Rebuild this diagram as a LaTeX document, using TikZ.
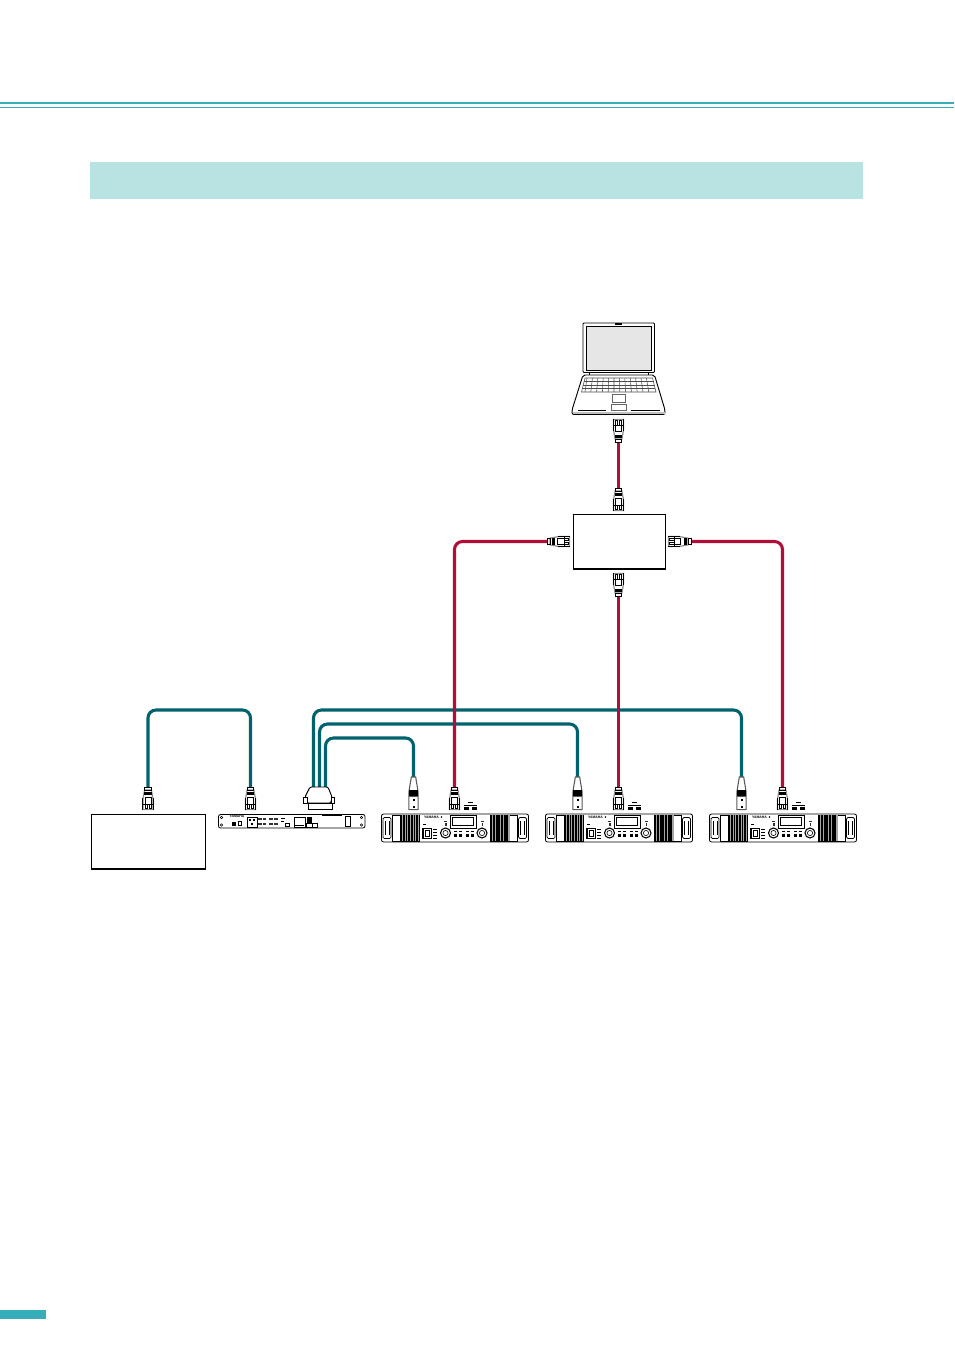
\documentclass[tikz,border=0pt]{standalone}
\usepackage{fontspec}
\setmainfont{Liberation Sans}
\definecolor{tealband}{HTML}{36ADB9}
\definecolor{paleband}{HTML}{B9E2E3}
\definecolor{tealcable}{HTML}{00626C}
\definecolor{redcable}{HTML}{B00F3A}
\definecolor{screen}{HTML}{E6E6E6}
\tikzset{
  x=0.75pt,y=-0.75pt,
  tealline/.style={draw=tealcable,line width=2.3pt,rounded corners=6pt},
  redline/.style={draw=redcable,line width=2.3pt,rounded corners=6pt},
  thin outline/.style={draw=black,line width=0.45pt},
  med outline/.style={draw=black,line width=0.7pt},
  boxnode/.style={draw=black,line width=0.7pt,fill=white,minimum width=#1,inner sep=0pt,outer sep=0pt,anchor=north west},
  logotext/.style={inner sep=0pt,font=\fontsize{2.6pt}{3pt}\selectfont\bfseries},
  pics/rjplug/.style={code={
    % origin = plug tip centre, cable leaves towards -y
    \fill[white] (-5.5,0) rectangle (5.5,-23);
    \draw[draw=black!45,line width=0.9pt] (-5,-0.4) -- (-5,-11) -- (-3.4,-20) -- (3.4,-20) -- (5,-11) -- (5,-0.4) -- cycle;
    \draw[draw=black,line width=0.6pt] (-3.2,-23) rectangle (3.2,-20);
    \fill[black] (-3.8,-18.5) rectangle (3.8,-15.5);
    \draw[draw=black,line width=0.5pt] (-5.3,0) -- (-5.3,-12) (5.3,0) -- (5.3,-12);
    \draw[draw=black,line width=0.55pt] (-5,-6) -- (-3,-6) (3,-6) -- (5,-6);
    \draw[draw=black,line width=0.55pt] (-3,-12.5) rectangle (3,-6);
    \draw[draw=black,line width=0.55pt] (-3,-6) -- (-3,-1.5) -- (-1,-1.5) -- (-1,-6);
    \draw[draw=black,line width=0.55pt] (3,-6) -- (3,-1.5) -- (1,-1.5) -- (1,-6);
  }},
  pics/xlrplug/.style={code={
    % origin = tip centre
    \fill[white] (-5,0) rectangle (5,-33);
    \draw[draw=black!65,line width=0.8pt] (-4.7,-0.4) -- (-4.7,-15) .. controls (-4.7,-21) and (-3,-26) .. (-2.2,-33) -- (2.2,-33) .. controls (3,-26) and (4.7,-21) .. (4.7,-15) -- (4.7,-0.4) -- cycle;
    \fill[black] (-4.7,-20) rectangle (4.7,-14.5);
    \fill[black!65] (-4.7,-14) rectangle (4.7,-13);
    \fill[black] (-1,-11) rectangle (1,-9);
    \fill[black] (-1,-4) rectangle (1,-2);
  }},
  pics/netsym/.style={code={
    \fill[black] (0,-3) rectangle (5,-0.5);
    \fill[black] (8.5,-3) rectangle (13.5,-0.5);
    \draw[thin outline] (0,-4.5) -- (13.5,-4.5);
    \fill[black] (4.5,-8.2) rectangle (9,-7);
  }},
  pics/ampunit/.style={code={
    \draw[draw=black,line width=0.6pt,rounded corners=1.5pt,fill=white] (0,0) rectangle (147,28);
    \foreach \hx in {1.5,137}{
      \draw[thin outline,rounded corners=1pt] (\hx,3.5) rectangle ++(8,21);
      \draw[thin outline] (\hx+2,7) -- (\hx+2,21) (\hx+6,7) -- (\hx+6,21);
    }
    \draw[thin outline] (11,1) rectangle (37.5,27);
    \draw[thin outline] (109,1) rectangle (135.5,27);
    \fill[black!35] (18,1) rectangle (37.5,27);
    \fill[black!35] (109,1) rectangle (128,27);
    \foreach \k in {18,19.6,...,36.5}{ \fill[black] (\k,1) rectangle ++(1.1,26); }
    \foreach \k in {109.5,111.1,...,127}{ \fill[black] (\k,1) rectangle ++(1.1,26); }
    \node[logotext] (logo) at (50,3.4) {YAMAHA};
    \fill[black] (60,3) circle (0.9);
    \draw[med outline] (40.5,14) rectangle (49.5,24);
    \fill[black] (41,14) rectangle (42.5,24);
    \draw[thin outline] (43.5,16) rectangle (47.5,22);
    \fill[black] (41,9.5) rectangle (44,11);
    \draw[thin outline] (68.5,1.5) rectangle (95,14);
    \draw[thin outline] (71,3.5) rectangle (92,11);
    \foreach \q in {72,77,84,89}{
      \fill[black] (\q,16.5) rectangle ++(3,1.5);
      \fill[black] (\q,19.5) rectangle ++(3,3);
    }
    \foreach \r in {64,100.5}{
      \draw[draw=black,line width=0.8pt,fill=white] (\r,19) circle (5);
      \draw[thin outline] (\r,19) circle (2.6);
      \fill[black!80] (\r-1.5,7) rectangle ++(3,1);
      \fill[black!80] (\r-0.5,9) rectangle ++(1.5,3);
    }
    \foreach \s in {15,18,21,24}{ \fill[black] (51,\s) rectangle ++(4.5,1.2); }
  }},
}
\begin{document}
\begin{tikzpicture}
\useasboundingbox (0,0) rectangle (954,1350);
% page furniture
\fill[tealband] (0,102.2) rectangle (954,104.2);
\fill[tealband] (0,106.6) rectangle (954,107.6);
\fill[paleband] (90,162) rectangle (863,199);
\fill[tealband] (0,1310) rectangle (46,1319);

% plug ends
\coordinate (lapPlug) at (618.5,441);
\coordinate (hubTop) at (618.5,489);
\coordinate (hubLeft) at (548,541.5);
\coordinate (hubRight) at (690,541.5);
\coordinate (hubBottom) at (618.5,595);
\coordinate (srcEnd) at (148,789);
\coordinate (swEnd) at (250.5,789);
\coordinate (dsubA) at (313.5,790);
\coordinate (dsubB) at (319.5,790);
\coordinate (dsubC) at (325.5,790);
\coordinate (xlrA) at (413.5,778);
\coordinate (xlrB) at (577.5,778);
\coordinate (xlrC) at (741.5,778);
\coordinate (netA) at (454.5,789);
\coordinate (netB) at (618.5,789);
\coordinate (netC) at (782.5,789);
\coordinate (topA) at (250.5,710);
\coordinate (topC) at (741.5,710);
\coordinate (topB) at (577.5,724);
\coordinate (topD) at (413.5,738);

% cables
\draw[tealline] (srcEnd) |- (topA) -- (swEnd);
\draw[tealline] (dsubA) |- (topC) -- (xlrC);
\draw[tealline] (dsubB) |- (topB) -- (xlrB);
\draw[tealline] (dsubC) |- (topD) -- (xlrA);
\draw[redline] (lapPlug) -- (hubTop);
\draw[redline] (hubLeft) -| (netA);
\draw[redline] (hubRight) -| (netC);
\draw[redline] (hubBottom) -- (netB);

% laptop
\node[inner sep=0pt,minimum size=0pt] (laptop) at (618.5,368) {};
\draw[draw=black,line width=0.7pt,fill=white,rounded corners=0.8pt] (583,323) rectangle (654.5,372.5);
\draw[draw=black,line width=0.5pt,fill=screen] (586,326) rectangle (651.5,370);
\fill[black] (615,323) rectangle (622,324.8);
\draw[draw=black,line width=0.7pt,fill=white,rounded corners=1.5pt] (583,375) -- (654.5,375) -- (665,410) -- (665,414.5) -- (572,414.5) -- (572,410) -- cycle;
\draw[thin outline] (589,372.5) -- (589,375) (648,372.5) -- (648,375);
\fill[black!25] (572.5,411.5) rectangle (664.5,414);
\draw[draw=black!70,line width=0.4pt] (585,378) -- (652.5,378) -- (656,392) -- (581.5,392) -- cycle;
\draw[draw=black!70,line width=0.4pt] (584,381.5) -- (653.5,381.5) (583,385) -- (654.5,385) (582,388.5) -- (655,388.5);
\foreach \kx in {0,1,...,11}{
  \draw[draw=black!70,line width=0.4pt] (587+\kx*5.4,378) -- (585+\kx*5.8,392);
}
\draw[draw=black!60,line width=0.4pt] (612,394) rectangle (625.5,402);
\draw[draw=black!60,line width=0.4pt] (611.5,404) rectangle (626,410.5);
\draw[draw=black,line width=0.7pt] (578,410) -- (606,410) (631,410) -- (660,410);

% hub box
\node[boxnode=69pt,minimum height=41pt] (hub) at (573,514.5) {};
\draw[draw=black,line width=1pt] (573,569) -- (665,569);

% source box
\node[boxnode=85.5pt,minimum height=41pt] (source) at (91.5,814.5) {};
\draw[draw=black,line width=1pt] (91.5,869) -- (205.5,869);

% plugs
\pic at (618.5,419) [yscale=-1] {rjplug};
\pic at (618.5,511) {rjplug};
\pic at (570,541.5) [rotate=90] {rjplug};
\pic at (668,541.5) [rotate=-90] {rjplug};
\pic at (618.5,573) [yscale=-1] {rjplug};
\pic at (148,810) {rjplug};
\pic at (250.5,810) {rjplug};
\foreach \px in {454.5,618.5,782.5}{
  \pic at (\px,810) {rjplug};
  \pic at (\px+9,810) {netsym};
}
\foreach \px in {413.5,577.5,741.5}{
  \pic at (\px,810) {xlrplug};
}

% D-sub
\draw[draw=black,line width=0.7pt,fill=white,rounded corners=1pt] (310,787) -- (328,787) -- (332,797) -- (331,803) -- (307,803) -- (305,797) -- cycle;
\draw[draw=black,line width=0.7pt,fill=white] (308,803) rectangle (332,809);
\draw[draw=black,line width=0.7pt,fill=white] (303.5,797.5) rectangle (307,803);
\draw[draw=black,line width=0.7pt,fill=white] (331,797.5) rectangle (334.5,803);

% rack unit (processor)
\draw[draw=black,line width=0.6pt,rounded corners=1.5pt,fill=white] (218.5,814.5) rectangle (365,828);
\foreach \cx/\cy in {221.5/817.5,361.5/817.5,221.5/825,361.5/825}{\draw[thin outline] (\cx,\cy) circle (1.2);}
\node[logotext] (rackLogo) at (237,816) {YAMAHA};
\fill[black] (232,821.5) rectangle (236,825.5);
\draw[med outline] (238,821.5) rectangle (241.5,825.5);
\draw[thin outline] (247,817) rectangle (257,827);
\fill[black] (249,818.5) rectangle (250.5,820.5);
\fill[black] (253,818.5) rectangle (254.5,820.5);
\fill[black] (251,823) rectangle (252.5,825);
\foreach \gx in {258,262.5,269,274}{
  \foreach \gy in {817.5,822.5}{ \fill[black!80] (\gx,\gy) rectangle ++(3.8,2); }
}
\fill[black] (281,817.5) rectangle (285,818.5);
\fill[black] (281,820.5) rectangle (283.5,821.5);
\draw[thin outline] (285,823) rectangle (289,826);
\draw[med outline] (294,817) rectangle (305,827);
\fill[black] (295,825) rectangle (304,825.7);
\fill[black] (306.5,817) rectangle (312,823);
\draw[med outline] (306.5,823) rectangle (312,827);
\draw[med outline] (312,823.5) rectangle (317,827);
\fill[black] (322,815) rectangle (342,816);
\draw[med outline] (345,816.5) rectangle (350,826);

% amps
\pic (ampA) at (381.5,814) {ampunit};
\pic (ampB) at (545.5,814) {ampunit};
\pic (ampC) at (709.5,814) {ampunit};
\end{tikzpicture}
\end{document}
